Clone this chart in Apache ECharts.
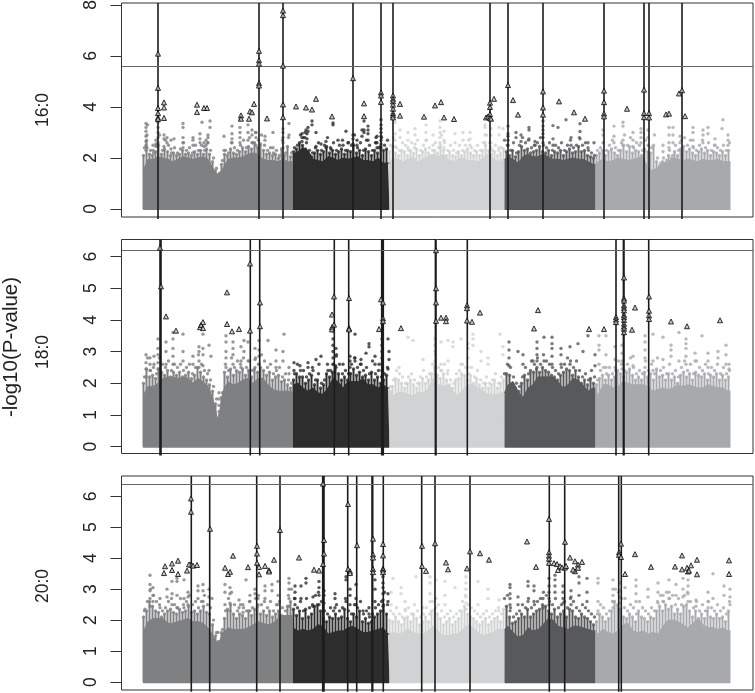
<!DOCTYPE html>
<html>
<head>
<meta charset="utf-8">
<style>
html,body{margin:0;padding:0;background:#fff}
#chart{width:755px;height:693px}
</style>
</head>
<body>
<div id="chart"></div>
<script src="https://cdn.jsdelivr.net/npm/echarts@6/dist/echarts.min.js"></script>
<script>
// chromosome edges on the cumulative position scale, and their greys
const chromEdges = [0, 150, 246.5, 361.5, 452.5, 587.5]
const chromColors = ['#7f8082', '#2d2d2e', '#d0d2d3', '#58595b', '#a7a9ac']
const panelNames = ['16:0', '18:0', '20:0']
const thresholds = [5.6, 6.2, 6.4]
const ticks160 = [0, 2, 4, 6, 8]
const ticks180 = [0, 1, 2, 3, 4, 5, 6]
const ticks200 = [0, 1, 2, 3, 4, 5, 6]

// top of the solid mass of points, one value every 5 position units
const mass160 = [1.5,1.95,1.95,2.05,2.0,1.95,1.85,1.95,2.05,2.0,1.95,2.0,2.05,1.95,1.6,1.3,1.6,1.95,2.0,2.0,2.05,2.15,2.2,2.15,1.95,1.9,1.9,1.85,1.95,1.85,
  2.15,2.25,2.4,2.3,1.95,1.9,1.85,2.05,2.0,1.9,2.0,1.95,2.0,2.05,1.9,1.9,1.85,2.0,1.8,1.8,
  2.0,1.95,1.85,1.95,2.05,1.85,1.95,2.05,2.15,2.05,2.15,1.95,1.85,1.95,2.0,1.9,1.9,1.85,2.0,2.15,2.0,1.85,1.95,
  2.05,1.95,1.8,2.05,2.15,2.05,2.05,2.15,2.05,1.95,1.95,1.9,1.95,2.0,1.95,1.95,1.85,1.75,
  1.85,1.95,1.85,1.9,2.0,1.95,1.9,1.95,2.0,2.05,1.6,1.5,1.65,1.8,1.85,2.0,1.95,1.9,1.95,1.9,1.85,1.95,1.9,1.9,1.95,1.85,1.85]
const mass180 = [1.6,1.9,1.9,2.0,2.15,2.2,2.2,2.15,2.2,2.15,2.0,2.15,2.05,1.9,1.5,0.8,1.75,2.05,1.95,2.0,2.1,2.15,2.0,2.15,2.15,1.95,1.8,1.75,1.75,1.75,
  1.95,2.0,1.85,1.75,1.85,1.7,1.65,1.85,2.15,2.05,1.85,2.05,2.05,2.05,2.15,1.95,1.95,1.85,1.95,1.85,
  1.6,1.7,1.7,1.65,1.6,1.7,1.7,1.8,2.15,1.95,1.9,1.95,1.75,1.6,1.8,1.95,1.95,1.85,1.75,1.65,1.65,1.65,1.7,
  1.95,2.05,1.75,1.55,1.85,1.95,2.2,2.2,2.2,2.2,2.05,1.85,1.95,2.15,2.1,1.95,1.75,1.85,
  1.6,1.95,1.95,1.85,1.9,2.05,2.0,1.95,1.95,1.95,1.9,1.75,1.8,1.85,1.8,1.85,1.95,1.9,1.95,1.9,1.85,1.85,1.95,1.9,1.85,1.85,1.75]
const mass200 = [1.6,1.95,2.05,2.05,2.05,1.9,1.9,1.95,2.0,2.05,1.95,1.95,1.9,1.75,1.5,1.2,1.6,1.75,1.7,1.7,1.7,1.75,1.85,1.95,1.9,1.85,1.9,2.05,2.15,2.15,
  1.75,1.65,1.7,1.65,1.7,1.85,1.8,1.55,1.6,1.65,1.65,1.75,1.8,1.7,1.6,1.6,1.65,1.7,1.75,1.55,
  1.6,1.55,1.6,1.7,1.6,1.55,1.55,1.65,1.8,1.65,1.5,1.5,1.55,1.55,1.7,1.85,1.75,1.6,1.5,1.55,1.6,1.7,1.7,
  1.8,1.6,1.45,1.5,1.75,1.65,1.7,1.85,2.05,2.0,1.8,1.75,1.7,1.8,1.8,1.75,1.7,1.65,
  1.55,1.7,1.6,1.55,1.65,1.85,1.9,1.65,1.6,1.65,1.55,1.6,1.55,1.8,2.0,2.0,1.95,1.85,1.75,1.9,2.05,1.85,1.75,1.75,1.7,1.75,1.65]

// columns of points just above the mass, one every 3 units from 0.5
const fringe160 = [2.1,2.7,2.15,2.1,2.25,2.5,2.15,2.35,2.25,2.1,2.2,2.1,2.15,2.3,2.15,2.2,2.1,2.25,2.15,2.3,2.15,2.35,2.15,1.85,1.5,1.35,1.75,2.15,2.1,2.35,2.2,2.15,2.25,2.4,2.25,2.45,2.35,2.6,2.4,2.55,2.3,2.15,2.2,2.1,2.15,2.0,2.35,2.1,2.45,2.05,
  2.25,2.35,2.6,2.5,2.35,2.1,2.05,2.2,2.3,2.15,2.25,2.45,2.2,2.3,2.15,2.25,2.35,2.15,2.3,2.25,2.5,2.2,2.3,2.1,2.35,2.25,2.1,2.3,2.2,2.45,2.3,2.35,
  2.25,2.45,2.2,2.1,2.3,2.25,2.1,2.3,2.2,2.35,2.1,2.25,2.35,2.2,2.1,2.3,2.2,2.5,2.3,2.1,2.25,2.1,2.05,2.25,2.1,2.25,2.35,2.2,2.1,2.25,2.1,2.3,2.5,2.3,2.15,2.25,2.1,2.2,
  2.35,2.25,2.1,2.3,2.05,2.25,2.45,2.3,2.35,2.2,2.25,2.3,2.45,2.25,2.2,2.3,2.1,2.25,2.2,2.3,2.1,2.25,2.35,2.2,2.25,2.45,2.25,2.3,2.1,2.05,2.0,
  2.1,2.2,2.3,2.1,2.25,2.35,2.2,2.1,2.3,2.5,2.25,2.45,2.2,2.3,2.25,2.1,2.35,2.25,2.2,2.5,1.85,1.7,1.85,1.8,2.1,2.0,2.25,2.1,2.35,2.45,2.25,2.35,2.2,2.1,2.25,2.35,2.2,2.3,2.1,2.25,2.2,2.1,2.25,2.1,2.3]
const fringe180 = [2.0,2.45,2.2,2.25,2.15,2.45,2.35,2.25,2.4,2.2,2.35,2.25,2.35,2.2,2.25,2.35,2.15,2.25,2.5,2.35,2.2,2.1,1.95,1.75,1.35,0.9,1.55,2.35,2.2,2.45,2.25,2.4,2.35,2.45,2.25,2.4,2.2,2.45,2.35,2.5,2.4,2.25,2.35,2.1,2.2,2.25,2.05,2.1,1.95,1.85,
  2.1,2.3,2.2,2.2,2.0,2.1,2.25,1.95,2.1,1.85,1.95,2.3,2.2,2.35,2.55,2.3,2.1,2.2,2.1,2.3,2.45,2.25,2.35,2.2,2.25,2.1,2.35,2.1,2.2,2.0,2.1,2.25,
  1.75,1.9,2.15,2.1,2.0,1.85,2.0,2.1,1.95,1.85,2.0,2.15,2.0,2.1,2.3,2.5,2.25,2.15,2.3,2.1,1.95,1.85,2.1,2.15,2.3,2.25,2.1,2.25,2.0,2.15,1.95,1.85,2.0,1.85,1.95,2.1,1.85,2.0,
  2.1,2.3,2.25,2.0,1.85,1.75,2.0,2.25,2.1,2.4,2.35,2.45,2.35,2.5,2.4,2.35,2.25,2.2,2.1,2.25,2.35,2.45,2.4,2.25,2.4,2.2,2.0,2.1,1.95,2.15,2.0,
  1.95,2.15,2.25,2.1,2.25,2.1,2.2,2.4,2.3,2.2,2.35,2.45,2.25,2.1,2.2,2.1,2.35,2.2,2.3,2.1,2.45,2.2,2.25,2.1,2.3,2.1,2.2,2.0,2.25,2.35,2.2,2.3,2.1,2.35,2.25,2.2,2.3,2.1,2.25,2.2,2.3,2.1,2.25,2.1,2.2]
const fringe200 = [2.1,2.3,2.6,2.45,2.3,2.25,2.1,2.2,2.3,2.35,2.25,2.2,2.35,2.25,2.3,2.45,2.25,2.3,2.2,2.3,2.45,2.25,2.2,1.85,1.5,1.25,1.6,2.05,2.35,2.5,2.2,2.05,2.2,2.15,2.05,2.3,2.15,2.35,2.45,2.2,2.3,2.15,2.3,2.1,2.2,2.3,2.15,2.1,2.45,2.6,
  2.35,2.15,2.3,2.05,2.35,2.1,2.2,2.45,2.5,2.3,2.05,1.95,2.1,2.05,2.2,2.05,2.1,2.35,2.05,1.95,2.2,2.1,2.3,1.95,2.05,1.9,1.95,2.1,2.2,2.3,2.5,2.2,
  2.0,1.95,2.1,1.95,1.85,2.05,2.1,1.95,2.2,2.05,1.85,1.95,2.1,1.95,2.3,2.35,2.2,2.05,1.85,1.95,2.05,1.85,1.95,2.05,2.3,2.45,2.2,2.1,2.05,1.95,1.85,1.95,2.05,1.85,1.95,2.05,2.1,1.95,
  2.35,2.45,2.1,1.9,1.95,2.05,2.2,2.1,2.35,2.1,2.2,2.3,2.35,2.5,2.45,2.3,2.2,2.35,2.1,2.2,2.3,2.1,2.35,2.3,2.1,2.05,2.2,2.1,2.05,1.95,1.85,
  1.95,2.2,2.1,1.95,2.05,2.3,2.6,2.5,2.35,2.1,2.05,2.2,2.1,1.95,2.3,2.1,2.05,1.95,2.1,2.05,2.3,2.45,2.3,2.5,2.35,2.45,2.2,2.35,2.2,2.45,2.5,2.3,2.1,2.3,2.05,2.2,2.05,2.3,2.1,2.05,2.2,2.05,2.1,1.95,2.3]

// tips of the strands of points, one every 3 units from 1.5
const strand160 = [2.4,3.3,2.3,2.2,2.5,2.9,2.3,2.7,2.5,2.2,2.4,2.2,2.35,2.6,2.3,2.4,2.2,2.5,2.3,2.5,2.3,2.6,2.3,2.0,1.6,1.4,1.9,2.3,2.2,2.6,2.4,2.3,2.5,2.7,2.4,2.8,2.6,3.0,2.7,2.9,2.5,2.3,2.4,2.2,2.3,2.1,2.7,2.2,2.8,2.2,
  2.4,2.5,2.9,2.8,2.6,2.3,2.2,2.4,2.6,2.3,2.5,2.8,2.4,2.6,2.3,2.5,2.7,2.3,2.6,2.5,2.9,2.4,2.6,2.3,2.7,2.5,2.3,2.6,2.4,2.8,2.5,2.7,
  2.5,2.8,2.4,2.3,2.6,2.5,2.3,2.6,2.4,2.7,2.3,2.5,2.7,2.4,2.3,2.6,2.4,2.9,2.6,2.3,2.5,2.3,2.2,2.5,2.3,2.5,2.7,2.4,2.3,2.5,2.3,2.6,2.9,2.6,2.3,2.5,2.3,2.4,
  2.7,2.5,2.3,2.6,2.2,2.5,2.8,2.6,2.7,2.4,2.5,2.6,2.8,2.5,2.4,2.6,2.3,2.5,2.4,2.6,2.3,2.5,2.7,2.4,2.5,2.8,2.5,2.6,2.3,2.2,2.1,
  2.3,2.4,2.6,2.3,2.5,2.7,2.4,2.3,2.6,2.9,2.5,2.8,2.4,2.6,2.5,2.3,2.7,2.5,2.4,2.9,2.0,1.8,2.0,1.9,2.3,2.1,2.5,2.3,2.7,2.8,2.5,2.7,2.4,2.3,2.5,2.7,2.4,2.6,2.3,2.5,2.4,2.3,2.5,2.3,2.6]
const strand180 = [2.2,2.8,2.4,2.5,2.3,2.8,2.6,2.5,2.7,2.4,2.6,2.5,2.6,2.4,2.5,2.6,2.3,2.5,2.9,2.6,2.4,2.3,2.1,1.9,1.5,1.0,1.7,2.6,2.4,2.8,2.5,2.7,2.6,2.8,2.5,2.7,2.4,2.8,2.6,2.9,2.7,2.5,2.6,2.3,2.4,2.5,2.2,2.3,2.1,2.0,
  2.3,2.6,2.4,2.4,2.2,2.3,2.5,2.1,2.3,2.0,2.1,2.6,2.4,2.6,2.9,2.6,2.3,2.4,2.3,2.6,2.8,2.5,2.6,2.4,2.5,2.3,2.7,2.3,2.4,2.2,2.3,2.5,
  1.9,2.1,2.4,2.3,2.2,2.0,2.2,2.3,2.1,2.0,2.2,2.4,2.2,2.3,2.6,2.9,2.5,2.4,2.6,2.3,2.1,2.0,2.3,2.4,2.6,2.5,2.3,2.5,2.2,2.4,2.1,2.0,2.2,2.0,2.1,2.3,2.0,2.2,
  2.3,2.6,2.5,2.2,2.0,1.9,2.2,2.5,2.3,2.7,2.6,2.8,2.6,2.9,2.7,2.6,2.5,2.4,2.3,2.5,2.6,2.8,2.7,2.5,2.7,2.4,2.2,2.3,2.1,2.4,2.2,
  2.1,2.4,2.5,2.3,2.5,2.3,2.4,2.7,2.6,2.4,2.6,2.8,2.5,2.3,2.4,2.3,2.7,2.4,2.6,2.3,2.8,2.4,2.5,2.3,2.6,2.3,2.4,2.2,2.5,2.7,2.4,2.6,2.3,2.7,2.5,2.4,2.6,2.3,2.5,2.4,2.6,2.3,2.5,2.3,2.4]
const strand200 = [2.3,2.6,3.0,2.8,2.6,2.5,2.3,2.4,2.6,2.7,2.5,2.4,2.7,2.5,2.6,2.8,2.5,2.6,2.4,2.6,2.8,2.5,2.4,2.0,1.6,1.3,1.7,2.3,2.7,2.9,2.5,2.3,2.5,2.4,2.3,2.6,2.4,2.7,2.8,2.5,2.6,2.4,2.6,2.3,2.5,2.6,2.4,2.3,2.8,3.0,
  2.7,2.4,2.6,2.3,2.7,2.4,2.5,2.8,2.9,2.6,2.3,2.2,2.4,2.3,2.5,2.3,2.4,2.7,2.3,2.2,2.5,2.4,2.6,2.2,2.3,2.1,2.2,2.4,2.5,2.6,2.9,2.5,
  2.3,2.2,2.4,2.2,2.1,2.3,2.4,2.2,2.5,2.3,2.1,2.2,2.4,2.2,2.6,2.7,2.5,2.3,2.1,2.2,2.3,2.1,2.2,2.3,2.6,2.8,2.5,2.4,2.3,2.2,2.1,2.2,2.3,2.1,2.2,2.3,2.4,2.2,
  2.7,2.8,2.4,2.1,2.2,2.3,2.5,2.4,2.7,2.4,2.5,2.6,2.7,2.9,2.8,2.6,2.5,2.7,2.4,2.5,2.6,2.4,2.7,2.6,2.4,2.3,2.5,2.4,2.3,2.2,2.1,
  2.2,2.5,2.4,2.2,2.3,2.6,3.0,2.9,2.7,2.4,2.3,2.5,2.4,2.2,2.6,2.4,2.3,2.2,2.4,2.3,2.6,2.8,2.6,2.9,2.7,2.8,2.5,2.7,2.5,2.8,2.9,2.6,2.4,2.6,2.3,2.5,2.3,2.6,2.4,2.3,2.5,2.3,2.4,2.2,2.6]

// loose points above the mass: [position, [values]]
const spray160 = [[3,[3.35,3.2,3.05,2.85,2.65,2.5,2.3]],[4,[2.9,2.4]],[10,[2.5,2.3]],[13,[2.7,2.55,2.45]],[15,[3.4,3.2,3.0,2.8,2.6]],[21,[2.9,2.75,2.45]],[24,[2.8,2.6]],[28,[2.7,2.35]],[31,[2.75]],[40,[3.35,3.2,2.8,2.6,2.4]],[50,[2.8,2.7,2.5]],[57,[2.95,2.75,2.6]],[59,[3.4]],[61,[2.6,2.45]],[63,[2.7,2.5]],[65,[2.9,2.8,2.6]],[67,[3.45,3.2]],[81,[2.85,2.3]],[89,[3.25,2.95,2.75,2.6]],[97,[3.5,3.2,3.0,2.8,2.6]],[105,[3.3,3.0,2.7]],[109,[3.1,2.9,2.6]],[113,[3.0,2.8,2.5]],[122,[2.85,2.7]],[130,[3.0,2.4]],[140,[3.15,3.0,2.8,2.6,2.4]],[146,[3.35,2.9]],
  [159,[2.95,2.8,2.65]],[162,[3.0,2.8]],[164,[2.95,2.75]],[165,[3.2,3.05]],[163,[3.1]],[169,[3.45,3.3]],[173,[3.0,2.45]],[178,[2.55]],[183,[2.65,2.4]],[188,[2.35]],[190,[3.37,3.3]],[195,[2.7]],[200,[2.5]],[203,[3.05]],[205,[2.6]],[210,[2.9,2.75,2.55]],[214,[2.7,2.5]],[219,[3.1,2.85]],[221,[3.45,3.1,3.0]],[225,[3.25,3.1,2.95,2.7]],[234,[2.85,2.6,2.4]],[238,[3.5,3.3,3.15,3.0,2.85,2.7,2.55,2.4]],[233,[2.8,2.6]],
  [252,[3.4,2.95,2.7,2.45]],[257,[3.1,2.8]],[265,[3.0,2.7,2.4]],[272,[3.15,2.9,2.55]],[283,[3.3,3.0,2.7]],[290,[2.9,2.5]],[297,[3.45,3.2,3.0,2.8,2.6,2.4]],[301,[3.05,2.7,2.4]],[312,[2.95,2.6]],[320,[3.0,2.7]],[327,[3.0,2.75,2.5]],[342,[3.3,3.2,2.9,2.6]],[348,[3.15,2.9,2.6,2.4]],[356,[3.2,2.9,2.4]],[360,[3.15]],
  [365,[3.25,2.95,2.85,2.7,2.5]],[373,[3.0,2.8]],[378,[2.9,2.65]],[386,[3.2,3.1,2.75]],[392,[2.65,2.5]],[400,[3.45,3.25,3.1,2.95,2.8,2.6]],[410,[3.27,2.75,2.5]],[415,[3.2]],[423,[3.5]],[428,[2.8,2.5]],[437,[3.34,3.04,2.75]],[445,[2.6,2.4]],[451,[2.6]],
  [460,[3.1,2.9,2.6]],[471,[3.25,2.85,2.6]],[480,[3.4,3.25,2.7,2.5]],[490,[3.0,2.7,2.45]],[498,[3.15,3.0,2.8,2.6]],[505,[3.1,2.8,2.5]],[520,[2.5,2.25]],[526,[3.2,2.9,2.6,2.4]],[530,[3.2,2.9,2.6]],[537,[2.85,2.6]],[550,[3.2,3.0,2.7,2.45]],[560,[3.1,2.9,2.6]],[565,[3.2,2.95]],[572,[2.75,2.5]],[579,[3.15]],[580,[3.5]],[585,[2.9,2.7,2.5]]]
const spray180 = [[3,[2.9,2.65,2.45,2.2]],[7,[2.8,2.6,2.4]],[11,[2.85,2.6]],[15,[3.4,3.1,2.9,2.65,2.45]],[23,[3.3,3.0,2.6]],[30,[3.6,3.4,3.1,2.85,2.6]],[40,[3.55,3.0,2.7]],[50,[2.85,2.6]],[56,[3.15,3.0,2.7,2.5]],[60,[3.55,3.1,2.9,2.55]],[66,[3.2,2.4]],[68,[2.85]],[76,[1.7,1.5,1.3,1.1]],[83,[3.5,3.3,3.0,2.8,2.5]],[90,[3.3,3.1,2.9,2.6]],[98,[3.15,2.7,2.5]],[101,[3.35,3.0]],[105,[3.3,2.7]],[112,[3.1,2.75,2.5]],[116,[3.35,3.05,2.85,2.6]],[125,[3.35]],[133,[3.05,2.7,2.5]],[140,[3.0,2.7]],[141,[3.55]],[146,[2.5,2.3]],
  [151,[2.65,2.4]],[157,[2.55]],[165,[2.65,2.5]],[170,[2.4]],[173,[2.75]],[176,[2.6]],[178,[2.85]],[185,[2.4]],[190,[3.65,3.4,3.2,3.0,2.8,2.6]],[193,[3.1,2.85,2.5]],[200,[2.6]],[207,[2.85,2.7,2.5,2.3]],[212,[3.55,2.8,2.7]],[218,[2.75,2.6]],[223,[2.95]],[226,[3.25,3.15]],[232,[2.85,2.6]],[236,[2.6]],[239,[3.4,3.2,3.0,2.8,2.6,2.4]],[245,[3.4,2.45]],[246,[3.0,2.75]],
  [256,[2.5]],[265,[3.45]],[270,[3.35]],[280,[2.75]],[292,[3.4,3.2,3.0,2.7,2.5]],[298,[3.3,2.6,2.4]],[305,[3.35,2.7,2.4]],[310,[3.3,3.15]],[318,[3.4,2.6]],[325,[3.25,3.1,2.8,2.5]],[330,[3.55,3.4,3.2]],[338,[3.0,2.7]],[345,[2.8,2.6]],[357,[3.55]],[360,[3.15,2.9]],
  [366,[3.3,3.05,2.8,2.55]],[375,[3.0]],[380,[2.9,2.6]],[390,[2.7]],[394,[3.3,3.1,2.9,2.7,2.5]],[401,[3.45,2.7]],[409,[3.45,3.25,3.1,2.85,2.6]],[418,[3.1,2.9,2.6]],[427,[3.15,2.6]],[435,[3.25]],[440,[3.0]],[445,[3.5]],[452,[2.9,2.55]],
  [456,[3.5,3.2,3.05,2.6]],[463,[3.5,2.9,2.5]],[472,[3.15,2.75,2.5]],[479,[3.2,2.95,2.7,2.45]],[490,[2.85,2.55]],[502,[3.5,3.3,3.05,2.8,2.5]],[510,[3.55,2.7,2.4]],[520,[3.45,2.75]],[528,[3.2,3.05,2.85]],[536,[3.6,2.7]],[543,[3.4,3.25,3.1,2.85,2.6]],[552,[2.95,2.7]],[559,[3.5]],[565,[2.95,2.7,2.5]],[575,[3.0,2.8]],[583,[3.2,2.9,2.6]],[586,[2.6,2.45]]]
const spray200 = [[2,[2.35]],[7,[3.45,3.15,2.95,2.7,2.45]],[10,[3.05,2.8,2.6]],[17,[2.7,2.4]],[24,[3.0,2.75]],[29,[3.25,2.85,2.5]],[34,[3.35,3.25,2.8,2.4]],[41,[3.3,2.7,2.4]],[45,[2.9,2.75,2.5]],[55,[3.1,2.95,2.7]],[60,[3.15,2.95,2.6]],[66,[3.0,2.75]],[69,[2.7]],[75,[1.6,1.3,1.1,1.0]],[82,[3.15,2.9,2.5]],[87,[3.05,2.85,2.55,2.3]],[96,[2.65,2.4]],[100,[2.5,2.25]],[103,[3.3]],[107,[2.8,2.6,2.3]],[112,[3.0,2.85]],[115,[2.7,2.5]],[122,[3.1,2.95,2.7]],[129,[3.15,2.95]],[135,[3.25,2.8,2.5]],[146,[3.35,3.2,3.0,2.7,2.45]],
  [152,[3.1,2.9,2.7,2.5]],[158,[3.1,2.7]],[163,[3.35,3.2]],[170,[2.75,2.45]],[176,[3.25,3.05,2.8,2.5]],[181,[2.95,2.8,2.55]],[192,[2.85,2.7,2.4]],[203,[3.4,3.3,2.6]],[207,[3.0,2.8,2.5]],[213,[3.15,2.7,2.5]],[220,[2.3]],[226,[2.4,2.2]],[232,[3.3,3.0,2.6]],[240,[3.4,3.2,3.05,2.85,2.65,2.45,2.3]],[245,[2.85,2.6]],
  [248,[2.9,2.5]],[250,[3.35]],[258,[3.05,2.85]],[262,[2.6,2.35]],[273,[3.4]],[280,[2.4]],[287,[3.4,3.2,2.85,2.6]],[293,[3.3,2.7,2.4]],[302,[3.25,2.8,2.5]],[312,[3.05]],[323,[3.4,3.2,3.0,2.75,2.55,2.35]],[335,[3.25,2.5]],[345,[3.0,2.7]],[356,[2.65,2.3]],
  [367,[3.15,3.05,2.85,2.7,2.5,2.3]],[375,[2.75,2.5]],[385,[3.25,3.1,2.6]],[391,[3.1,2.95,2.6]],[400,[2.7,2.4]],[406,[3.35,3.1,2.9,2.7,2.5]],[412,[3.45,3.3,3.1,2.9]],[420,[3.1,2.9,2.7,2.55]],[428,[2.95,2.75,2.5]],[436,[3.4,3.2,2.8]],[444,[3.35,2.9,2.6]],
  [455,[3.35,3.2,2.6,2.3]],[470,[3.3,3.0,2.8,2.6,2.4]],[477,[3.2,2.95,2.75,2.55]],[482,[3.05,2.7]],[493,[3.3,3.1,2.85,2.6]],[505,[3.0,2.75]],[515,[3.2,2.9,2.55]],[520,[2.8,2.6]],[526,[3.3,2.9,2.7]],[533,[3.15,2.8]],[540,[3.35,3.0,2.75]],[545,[3.3,3.1,2.85,2.6]],[553,[2.65,2.45]],[565,[2.9,2.6,2.4]],[570,[3.5,2.7]],[581,[3.1,2.8]],[587,[3.0,2.75,2.5]]]

// flagged SNPs drawn as triangles, and the loci that get a vertical line
const hits160 = [[15,6.09],[15,4.75],[15,3.96],[15,3.76],[15,3.58],[15,3.53],[21,4.18],[21,3.98],[21,3.57],[54,4.09],[54,3.8],[61,3.96],[64,3.96],[98,3.67],[98,3.54],[106,3.54],[107,3.83],[109,3.79],[111,4.12],[116,6.2],[116,5.83],[116,5.7],[116,4.94],[116,4.84],[124,3.55],[140,7.78],[140,7.6],[140,5.62],[140,4.1],[140,3.6],[153,4.02],[163,3.98],[169,3.9],[173,4.32],[189,3.63],[210,5.13],[221,4.14],[221,3.64],[238,4.57],[238,4.45],[238,4.2],[250,4.45],[250,4.32],[250,4.22],[250,4.09],[250,3.93],[250,3.76],[250,3.67],[250,3.59],[257,4.12],[257,3.66],[281,3.62],[292,4.06],[298,4.19],[301,3.59],[311,3.53],[343,3.59],[345,3.63],[347,4.17],[347,4.0],[347,3.72],[347,3.57],[348,3.54],[351,4.32],[365,4.86],[370,4.27],[375,3.7],[400,4.61],[400,3.98],[400,3.7],[416,4.22],[431,3.79],[442,3.54],[461,4.64],[461,4.19],[461,3.74],[461,3.63],[484,3.93],[501,4.68],[501,3.76],[501,3.6],[506,3.76],[506,3.59],[523,3.71],[526,3.74],[536,4.53],[539,4.66],[542,3.64]]
const hits180 = [[17,6.28],[18,5.06],[23,4.11],[33,3.66],[57,3.77],[58,3.84],[60,3.74],[60,3.93],[84,4.87],[84,3.87],[89,3.64],[96,3.71],[107,5.78],[107,3.66],[117,4.55],[117,3.8],[191,4.74],[191,3.85],[189,4.17],[189,3.77],[189,3.7],[206,4.69],[206,3.74],[206,3.7],[236,3.71],[238,4.65],[240,4.55],[240,4.05],[240,3.96],[258,3.74],[293,6.2],[293,5.0],[293,4.55],[293,3.97],[298,4.07],[303,4.07],[303,3.96],[324,4.46],[324,4.37],[324,3.98],[329,3.94],[337,4.23],[391,3.73],[395,4.31],[446,3.71],[461,3.71],[473,4.09],[473,4.01],[473,3.93],[481,5.34],[481,4.68],[481,4.61],[481,4.46],[481,4.38],[481,4.3],[481,4.16],[481,4.09],[481,4.0],[481,3.88],[481,3.79],[481,3.72],[481,3.61],[489,3.69],[492,4.39],[506,4.74],[506,4.29],[506,4.14],[506,4.03],[528,3.95],[544,3.8],[577,3.99]]
const hits200 = [[48,5.93],[48,5.5],[48,3.79],[21,3.52],[22,3.74],[29,3.83],[29,3.62],[35,3.92],[35,3.49],[44,3.6],[46,3.8],[50,3.76],[54,3.78],[67,4.95],[82,3.69],[87,3.56],[85,3.49],[90,4.08],[105,3.71],[114,4.4],[114,4.15],[114,3.85],[116,3.72],[116,3.48],[122,3.75],[126,3.61],[126,3.57],[131,3.95],[137,4.91],[156,4.02],[171,3.63],[176,3.6],[180,6.41],[180,3.81],[181,4.59],[181,4.15],[205,5.75],[205,3.65],[207,3.58],[207,3.52],[214,4.42],[230,4.63],[230,4.12],[230,4.02],[230,3.65],[230,3.55],[240,4.46],[240,4.09],[240,3.66],[240,3.63],[240,3.55],[279,4.4],[279,3.75],[283,3.59],[292,4.48],[303,3.86],[305,3.64],[324,3.67],[327,4.22],[337,4.16],[346,3.95],[384,4.54],[393,3.72],[406,5.27],[406,4.19],[406,4.08],[406,3.98],[406,3.85],[411,3.84],[414,3.81],[415,3.62],[417,3.74],[419,3.7],[422,4.53],[422,3.7],[423,3.75],[427,4.02],[432,3.9],[432,3.58],[435,3.79],[435,3.69],[430,3.63],[439,3.88],[476,4.19],[476,4.11],[478,4.47],[478,4.04],[482,3.49],[492,4.13],[508,3.72],[532,3.73],[539,4.09],[539,3.64],[544,3.69],[545,3.57],[546,3.6],[548,3.77],[554,3.95],[554,3.48],[586,3.93],[586,3.49]]
const lines160 = [15,116,140,210,238,250,347,365,400,461,501,506,539]
const lines180 = [17,18,107.3,116.7,191.3,205.7,238.7,240.3,292.4,293,324.3,473,480.4,481,505.7]
const lines200 = [48.3,66.7,113.7,137,179.7,181,204.7,213.7,229,229.7,240.3,278.7,292,327,406.3,421.7,475.7,478.3]

const panels = [
  {mass: mass160, fringe: fringe160, strand: strand160, spray: spray160, hits: hits160, lines: lines160, ticks: ticks160, top: 3, min: -0.314, max: 8.078, poke: 0.08},
  {mass: mass180, fringe: fringe180, strand: strand180, spray: spray180, hits: hits180, lines: lines180, ticks: ticks180, top: 239.5, min: -0.22, max: 6.54, poke: 0.06},
  {mass: mass200, fringe: fringe200, strand: strand200, spray: spray200, hits: hits200, lines: lines200, ticks: ticks200, top: 476, min: -0.258, max: 6.656, poke: 0.06}
]

function chromOf(pos){
  for (let c = 0; c < chromColors.length; c++){
    if (pos < chromEdges[c + 1]) return c
  }
  return chromColors.length - 1
}

const grids = [], xAxes = [], yAxes = [], series = []
panels.forEach((p, i) => {
  grids.push({left: 121.5, width: 631.5, top: p.top, height: 214, outerBoundsMode: 'none', show: true, borderColor: '#333', borderWidth: 1, backgroundColor: '#fff'})
  xAxes.push({type: 'value', gridIndex: i, min: -21.5, max: 610, show: false})
  yAxes.push({
    type: 'value', gridIndex: i, min: p.min, max: p.max,
    splitLine: {show: false}, axisLine: {show: false, onZero: false},
    axisTick: {length: 11, customValues: p.ticks, lineStyle: {color: '#333', width: 1}},
    axisLabel: {customValues: p.ticks, rotate: 90, margin: 21, fontFamily: 'Liberation Sans', fontSize: 17.5, color: '#222', hideOverlap: false}
  })
  const pointColor = params => chromColors[chromOf(params.value[0])]
  // solid mass, one area per chromosome
  chromColors.forEach((color, c) => {
    const data = [[chromEdges[c], p.mass[Math.floor(chromEdges[c] / 5)]]]
    p.mass.forEach((v, k) => {
      const x = k * 5
      if (x > chromEdges[c] && x < chromEdges[c + 1]) data.push([x, v])
    })
    data.push([chromEdges[c + 1], data[data.length - 1][1]])
    series.push({
      type: 'line', xAxisIndex: i, yAxisIndex: i, data, symbol: 'none', silent: true,
      lineStyle: {color, width: 1}, areaStyle: {color, opacity: 1, origin: -0.04}
    })
  })
  // thin columns rising out of the mass
  const columns = p.fringe.map((v, k) => [0.5 + k * 3, v])
  series.push({
    type: 'bar', xAxisIndex: i, yAxisIndex: i, data: columns, barWidth: 2, silent: true,
    itemStyle: {color: pointColor}
  })
  // all the separate points
  const loose = columns.slice()
  p.strand.forEach((v, k) => loose.push([1.5 + k * 3, v]))
  p.spray.forEach(col => col[1].forEach(v => loose.push([col[0], v])))
  series.push({
    type: 'scatter', xAxisIndex: i, yAxisIndex: i, data: loose, symbolSize: 3.4, silent: true,
    itemStyle: {color: pointColor}
  })
  // vertical lines over the flagged loci, broken with empty points
  const lineData = []
  p.lines.forEach(x => lineData.push([x, p.min - p.poke], [x, p.max], [x, null]))
  series.push({
    type: 'line', xAxisIndex: i, yAxisIndex: i, data: lineData, symbol: 'none', silent: true, clip: false, z: 4,
    lineStyle: {color: '#1c1c1c', width: 1.6}
  })
  // triangles and the threshold
  series.push({
    type: 'scatter', xAxisIndex: i, yAxisIndex: i, data: p.hits, symbol: 'triangle', symbolSize: 5, silent: true, z: 5,
    itemStyle: {color: '#bbb', borderColor: '#000', borderWidth: 1},
    markLine: {silent: true, symbol: 'none', label: {show: false}, animation: false, lineStyle: {color: '#666', width: 1, type: 'solid'},
      data: [[{coord: [-21.5, thresholds[i]]}, {coord: [610, thresholds[i]]}]]}
  })
})

function sideText(text, x, y, size){
  return {type: 'text', x, y, rotation: Math.PI / 2, style: {text, fontFamily: 'Liberation Sans', fontSize: size, fill: '#222', align: 'center', verticalAlign: 'middle'}}
}

const chart = echarts.init(document.getElementById('chart'))
chart.setOption({
  animation: false,
  backgroundColor: '#fff',
  grid: grids,
  xAxis: xAxes,
  yAxis: yAxes,
  series,
  graphic: [
    sideText('-log10(P-value)', 11, 347, 20.5),
    sideText(panelNames[0], 43, 110, 17.5),
    sideText(panelNames[1], 43, 352, 17.5),
    sideText(panelNames[2], 43, 586, 17.5)
  ]
})
</script>
</body>
</html>
